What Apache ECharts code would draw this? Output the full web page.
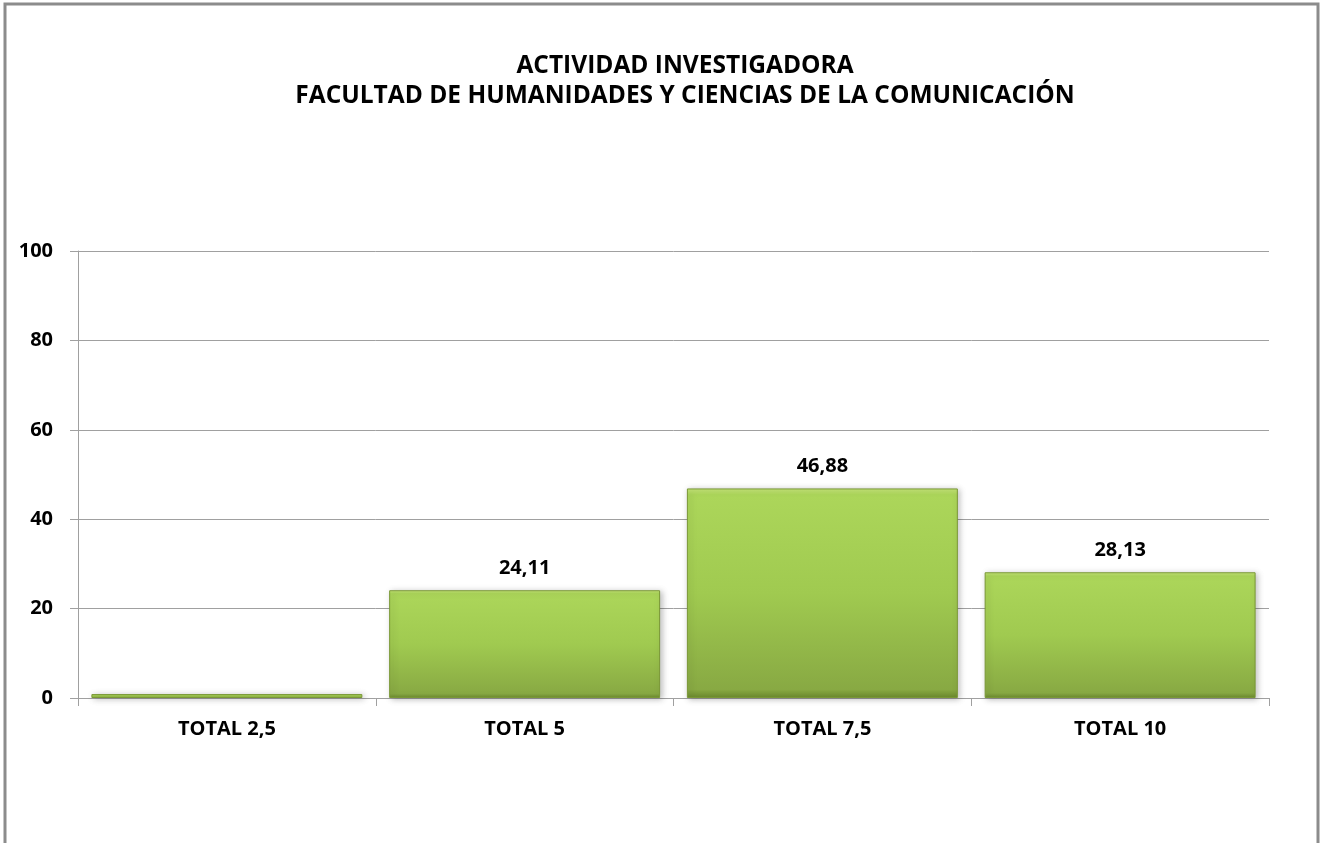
<!DOCTYPE html>
<html>
<head>
<meta charset="utf-8">
<script src="https://cdn.jsdelivr.net/npm/echarts@6/dist/echarts.min.js"></script>
<style>
  html, body { margin: 0; padding: 0; background: #fff; }
  #chart { width: 1323px; height: 843px; }
</style>
</head>
<body>
<div id="chart"></div>
<script>
// datos
var categories = ['TOTAL 2,5', 'TOTAL 5', 'TOTAL 7,5', 'TOTAL 10'];
var values = [0.88, 24.11, 46.88, 28.13];
var showLabel = [false, true, true, true];
var yTicks = [0, 20, 40, 60, 80, 100];

var myChart = echarts.init(document.getElementById('chart'));

var option = {
  backgroundColor: '#fff',
  animation: false,
  textStyle: { fontFamily: 'Open Sans, sans-serif' },
  title: {
    text: 'ACTIVIDAD INVESTIGADORA\nFACULTAD DE HUMANIDADES Y CIENCIAS DE LA COMUNICACIÓN',
    left: 680,
    textAlign: 'center',
    top: 46,
    textStyle: {
      fontSize: 24.5,
      fontWeight: 'bold',
      color: '#000',
      lineHeight: 30,
      fontFamily: 'Open Sans, sans-serif'
    }
  },
  graphic: [{
    type: 'rect',
    shape: { x: 5, y: 4, width: 1313, height: 900 },
    style: { fill: 'none', stroke: '#8c8c8c', lineWidth: 3 },
    z: -1
  }],
  grid: {
    left: 78,
    right: 54,
    top: 251,
    bottom: 145
  },
  xAxis: {
    type: 'category',
    data: categories,
    axisLine: { lineStyle: { color: '#a0a0a0', width: 1 } },
    axisTick: { show: true, length: 8, lineStyle: { color: '#a0a0a0' } },
    axisLabel: {
      margin: 21,
      color: '#000',
      fontSize: 20,
      fontWeight: 'bold'
    }
  },
  yAxis: {
    type: 'value',
    min: yTicks[0],
    max: yTicks[yTicks.length - 1],
    interval: 20,
    axisLine: { show: true, lineStyle: { color: '#a0a0a0', width: 1 } },
    axisTick: { show: true, length: 8, lineStyle: { color: '#a0a0a0' } },
    axisLabel: {
      margin: 25,
      color: '#000',
      fontSize: 20,
      fontWeight: 'bold'
    },
    splitLine: { show: true, lineStyle: { color: '#a0a0a0', width: 1 } }
  },
  series: [{
    type: 'bar',
    barCategoryGap: '9%',
    data: values.map(function (v, i) {
      return { value: v, label: { show: showLabel[i] } };
    }),
    itemStyle: {
      color: new echarts.graphic.LinearGradient(0, 0, 0, 1, [
        { offset: 0, color: '#c6e679' },
        { offset: 0.03, color: '#acd65a' },
        { offset: 0.5, color: '#a0ca50' },
        { offset: 0.96, color: '#88a943' },
        { offset: 1, color: '#6b8a2e' }
      ]),
      borderColor: '#7a9836',
      borderWidth: 1,
      shadowColor: 'rgba(0,0,0,0.25)',
      shadowBlur: 6,
      shadowOffsetX: 2,
      shadowOffsetY: 1
    },
    label: {
      position: 'top',
      distance: 12,
      color: '#000',
      fontSize: 20,
      fontWeight: 'bold',
      formatter: function (p) {
        return p.value.toFixed(2).replace('.', ',');
      }
    }
  }]
};

myChart.setOption(option);
</script>
</body>
</html>
